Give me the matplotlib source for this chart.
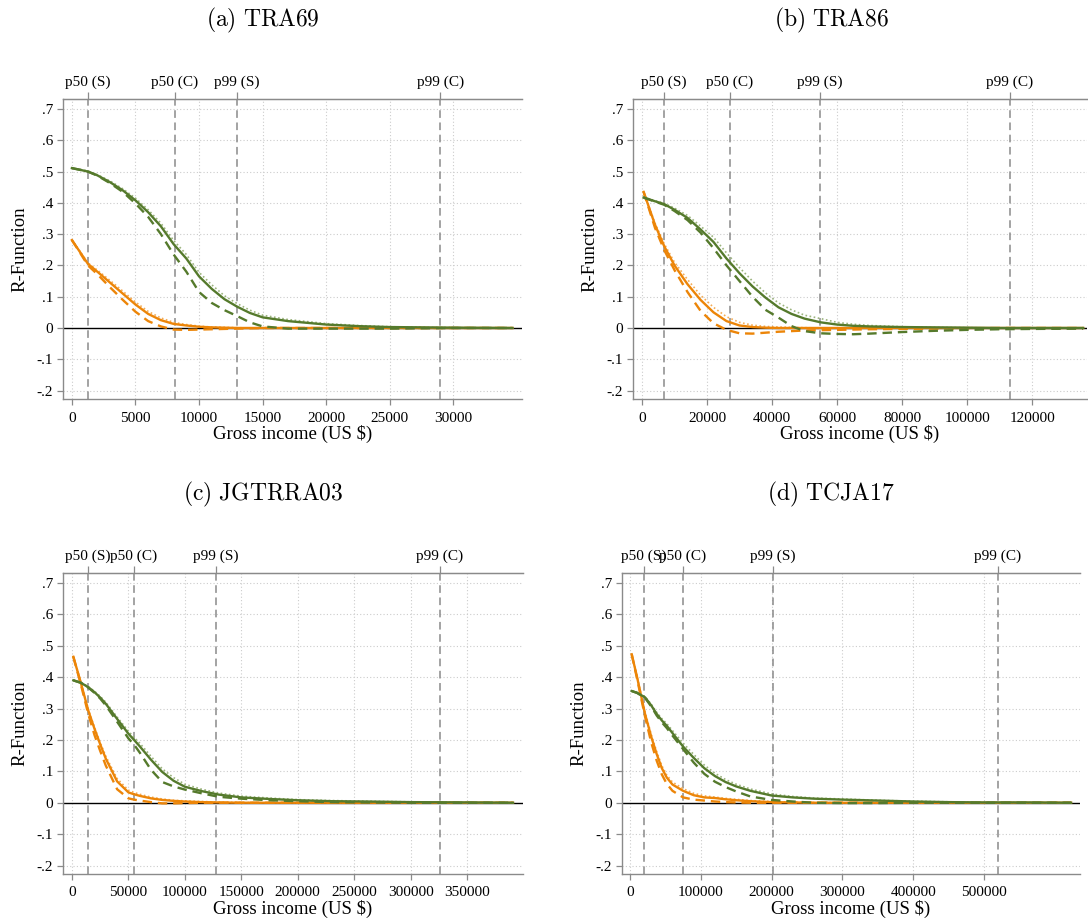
import matplotlib
matplotlib.use("Agg")
import matplotlib.pyplot as plt
import numpy as np

plt.rcParams['font.family'] = ['Liberation Serif', 'DejaVu Serif']
plt.rcParams['mathtext.fontset'] = 'cm'

# ---------------- data ----------------
titles = ["(a) TRA69", "(b) TRA86", "(c) JGTRRA03", "(d) TCJA17"]
top_labels = ["p50 (S)", "p50 (C)", "p99 (S)", "p99 (C)"]

# (a) TRA69
x_a = [0, 600, 1260, 2000, 3000, 4000, 5000, 6000, 7000, 8000, 9000, 10000,
       11000, 12000, 13000, 14000, 15000, 17000, 20000, 22500, 25000, 30000, 34650]
gs_a = [0.511, 0.506, 0.500, 0.488, 0.466, 0.440, 0.408, 0.370, 0.325, 0.268, 0.222, 0.165,
        0.125, 0.092, 0.068, 0.048, 0.034, 0.022, 0.011, 0.006, 0.003, 0.001, 0.0]
gd_a = [0.511, 0.506, 0.500, 0.487, 0.463, 0.435, 0.398, 0.355, 0.300, 0.235, 0.180, 0.115,
        0.080, 0.057, 0.038, 0.018, 0.005, -0.002, -0.002, -0.002, -0.002, 0.0, 0.0]
gt_a = [0.512, 0.507, 0.502, 0.490, 0.470, 0.445, 0.415, 0.378, 0.335, 0.280, 0.235, 0.178,
        0.138, 0.103, 0.078, 0.057, 0.041, 0.027, 0.014, 0.008, 0.004, 0.001, 0.0]
os_a = [0.281, 0.245, 0.205, 0.180, 0.145, 0.110, 0.075, 0.045, 0.025, 0.013, 0.008, 0.004,
        0.002, 0.001, 0.0, 0.0, 0.0, 0.0, 0.0, 0.0, 0.0, 0.0, 0.0]
od_a = [0.281, 0.243, 0.200, 0.172, 0.130, 0.090, 0.052, 0.022, 0.005, -0.005, -0.006, -0.005,
        -0.004, -0.003, -0.002, -0.001, 0.0, 0.0, 0.0, 0.0, 0.0, 0.0, 0.0]
ot_a = [0.282, 0.247, 0.208, 0.185, 0.152, 0.118, 0.083, 0.053, 0.032, 0.018, 0.011, 0.006,
        0.003, 0.002, 0.001, 0.0, 0.0, 0.0, 0.0, 0.0, 0.0, 0.0, 0.0]
vl_a = [1260, 8110, 12990, 28980]

# (b) TRA86
x_b = [500, 4000, 6800, 10000, 14000, 18000, 22000, 26000, 30000, 34000, 38000, 42000,
       46000, 50000, 55000, 60000, 65000, 70000, 80000, 90000, 100000, 110000, 120000, 135700]
gs_b = [0.417, 0.405, 0.396, 0.378, 0.352, 0.315, 0.275, 0.222, 0.175, 0.133, 0.097, 0.066,
        0.045, 0.030, 0.018, 0.011, 0.007, 0.005, 0.003, 0.002, 0.001, 0.0, 0.0, 0.0]
gd_b = [0.417, 0.404, 0.394, 0.374, 0.345, 0.305, 0.255, 0.200, 0.150, 0.100, 0.058, 0.033,
        0.006, -0.010, -0.017, -0.019, -0.020, -0.018, -0.013, -0.009, -0.006, -0.004, -0.003, -0.002]
gt_b = [0.418, 0.407, 0.399, 0.383, 0.360, 0.326, 0.290, 0.240, 0.193, 0.150, 0.112, 0.080,
        0.058, 0.041, 0.030, 0.018, 0.012, 0.008, 0.004, 0.002, 0.001, 0.0, 0.0, 0.0]
os_b = [0.435, 0.330, 0.262, 0.200, 0.140, 0.090, 0.050, 0.022, 0.008, 0.003, 0.001, 0.0,
        0.0, 0.0, 0.0, 0.0, 0.0, 0.0, 0.0, 0.0, 0.0, 0.0, 0.0, 0.0]
od_b = [0.435, 0.320, 0.250, 0.185, 0.115, 0.055, 0.015, -0.006, -0.017, -0.018, -0.015, -0.012,
        -0.010, -0.008, -0.007, -0.006, -0.005, -0.004, -0.003, -0.002, -0.001, 0.0, 0.0, 0.0]
ot_b = [0.436, 0.335, 0.270, 0.210, 0.155, 0.105, 0.066, 0.036, 0.018, 0.009, 0.005, 0.003,
        0.002, 0.001, 0.0, 0.0, 0.0, 0.0, 0.0, 0.0, 0.0, 0.0, 0.0, 0.0]
vl_b = [6770, 27080, 54770, 113230]

# (c) JGTRRA03
x_c = [1200, 8000, 14400, 20000, 25000, 30000, 40000, 50000, 55000, 60000, 70000, 80000,
       90000, 100000, 115000, 130000, 150000, 175000, 200000, 230000, 260000, 300000, 350000, 390700]
gs_c = [0.390, 0.382, 0.368, 0.352, 0.335, 0.315, 0.267, 0.220, 0.200, 0.180, 0.137, 0.098,
        0.070, 0.051, 0.037, 0.026, 0.017, 0.012, 0.008, 0.005, 0.004, 0.002, 0.001, 0.0]
gd_c = [0.390, 0.382, 0.367, 0.350, 0.332, 0.310, 0.258, 0.205, 0.185, 0.160, 0.105, 0.066,
        0.052, 0.042, 0.030, 0.019, 0.013, 0.008, 0.005, 0.002, 0.001, 0.0, 0.0, 0.0]
gt_c = [0.391, 0.384, 0.370, 0.355, 0.339, 0.320, 0.273, 0.228, 0.208, 0.190, 0.148, 0.108,
        0.080, 0.059, 0.043, 0.031, 0.021, 0.015, 0.010, 0.007, 0.005, 0.003, 0.001, 0.0]
os_c = [0.465, 0.380, 0.294, 0.235, 0.186, 0.140, 0.068, 0.033, 0.027, 0.022, 0.014, 0.009,
        0.006, 0.004, 0.002, 0.001, 0.0, 0.0, 0.0, 0.0, 0.0, 0.0, 0.0, 0.0]
od_c = [0.465, 0.375, 0.283, 0.215, 0.165, 0.118, 0.043, 0.014, 0.010, 0.007, 0.002, -0.002,
        -0.002, -0.001, 0.0, 0.0, 0.0, 0.0, 0.0, 0.0, 0.0, 0.0, 0.0, 0.0]
ot_c = [0.466, 0.383, 0.298, 0.240, 0.192, 0.148, 0.077, 0.040, 0.033, 0.027, 0.018, 0.012,
        0.008, 0.006, 0.004, 0.002, 0.001, 0.0, 0.0, 0.0, 0.0, 0.0, 0.0, 0.0]
vl_c = [14180, 54900, 127600, 326000]

# (d) TCJA17
x_d = [2400, 10000, 21200, 30000, 37700, 45000, 52000, 60000, 75000, 90000, 105000, 120000,
       135000, 150000, 170000, 200000, 230000, 260000, 300000, 350000, 400000, 450000, 500000,
       560000, 622900]
gs_d = [0.356, 0.350, 0.336, 0.310, 0.283, 0.262, 0.245, 0.222, 0.179, 0.143, 0.110, 0.085,
        0.066, 0.052, 0.038, 0.023, 0.017, 0.013, 0.010, 0.007, 0.004, 0.002, 0.001, 0.001, 0.0]
gd_d = [0.356, 0.350, 0.334, 0.307, 0.278, 0.256, 0.238, 0.214, 0.171, 0.128, 0.092, 0.067,
        0.050, 0.036, 0.020, 0.009, 0.004, 0.0, -0.001, -0.001, 0.0, 0.0, 0.0, 0.0, 0.0]
gt_d = [0.357, 0.352, 0.338, 0.314, 0.288, 0.268, 0.252, 0.230, 0.190, 0.154, 0.120, 0.094,
        0.074, 0.059, 0.044, 0.028, 0.020, 0.015, 0.012, 0.008, 0.005, 0.003, 0.002, 0.001, 0.0]
os_d = [0.473, 0.400, 0.283, 0.210, 0.155, 0.110, 0.080, 0.058, 0.038, 0.024, 0.017, 0.015,
        0.011, 0.008, 0.005, 0.002, 0.001, 0.0, 0.0, 0.0, 0.0, 0.0, 0.0, 0.0, 0.0]
od_d = [0.473, 0.395, 0.275, 0.192, 0.134, 0.090, 0.060, 0.038, 0.017, 0.010, 0.007, 0.004,
        0.002, 0.001, 0.0, 0.0, 0.0, 0.0, 0.0, 0.0, 0.0, 0.0, 0.0, 0.0, 0.0]
ot_d = [0.474, 0.403, 0.290, 0.218, 0.163, 0.118, 0.088, 0.066, 0.045, 0.030, 0.022, 0.018,
        0.014, 0.011, 0.007, 0.004, 0.002, 0.001, 0.0, 0.0, 0.0, 0.0, 0.0, 0.0, 0.0]
vl_d = [19800, 74900, 202000, 519800]

xticks_a = [0, 5000, 10000, 15000, 20000, 25000, 30000]
xticks_b = [0, 20000, 40000, 60000, 80000, 100000, 120000]
xticks_c = [0, 50000, 100000, 150000, 200000, 250000, 300000, 350000]
xticks_d = [0, 100000, 200000, 300000, 400000, 500000]
yticks = [-0.2, -0.1, 0, 0.1, 0.2, 0.3, 0.4, 0.5, 0.6, 0.7]
ytick_labels = ["-.2", "-.1", "0", ".1", ".2", ".3", ".4", ".5", ".6", ".7"]

# ---------------- layout ----------------
W, H = 1088, 923
green = '#557a2c'
orange = '#ec8508'
gray = '#8a8a8a'

panels = [
    dict(x=x_a, gs=gs_a, gd=gd_a, gt=gt_a, os=os_a, od=od_a, ot=ot_a, vl=vl_a,
         xt=xticks_a, xlim=(-700, 35400), box=(63, 522, 99, 399), tx=263, ty=20),
    dict(x=x_b, gs=gs_b, gd=gd_b, gt=gt_b, os=os_b, od=od_b, ot=ot_b, vl=vl_b,
         xt=xticks_b, xlim=(-2770, 136900), box=(633, 1087, 99, 399), tx=832, ty=20),
    dict(x=x_c, gs=gs_c, gd=gd_c, gt=gt_c, os=os_c, od=od_c, ot=ot_c, vl=vl_c,
         xt=xticks_c, xlim=(-7975, 399600), box=(63, 523, 573, 874), tx=263, ty=494),
    dict(x=x_d, gs=gs_d, gd=gd_d, gt=gt_d, os=os_d, od=od_d, ot=ot_d, vl=vl_d,
         xt=xticks_d, xlim=(-11300, 635600), box=(622, 1080, 573, 874), tx=831, ty=494),
]

fig = plt.figure(figsize=(W / 100, H / 100), dpi=100)

for p, title in zip(panels, titles):
    l, r, t, b = p['box']
    ax = fig.add_axes([l / W, 1 - b / H, (r - l) / W, (b - t) / H])

    ax.set_xlim(*p['xlim'])
    ax.set_ylim(-0.227, 0.732)

    # grid
    for yv in yticks:
        if yv != 0:
            ax.axhline(yv, color='#cccccc', lw=0.8, ls=(0, (1, 2)), zorder=0)
    for xv in p['xt']:
        ax.axvline(xv, color='#cccccc', lw=0.8, ls=(0, (1, 2)), zorder=0)
    ax.axhline(0, color='black', lw=1.0, zorder=1)

    # percentile markers
    for xv in p['vl']:
        ax.axvline(xv, color=gray, lw=1.1, ls=(0, (5, 3)), zorder=1)

    x = p['x']
    ax.plot(x, p['ot'], color='#f4ad58', lw=1.2, ls=(0, (1, 1.5)), zorder=2)
    ax.plot(x, p['od'], color=orange, lw=1.7, ls=(0, (4, 2.5)), zorder=3)
    ax.plot(x, p['os'], color=orange, lw=1.7, zorder=3)
    ax.plot(x, p['gt'], color='#9cb47e', lw=1.2, ls=(0, (1, 1.5)), zorder=4)
    ax.plot(x, p['gd'], color=green, lw=1.7, ls=(0, (4, 2.5)), zorder=5)
    ax.plot(x, p['gs'], color=green, lw=1.7, zorder=5)

    ax.set_xticks(p['xt'])
    ax.set_xticklabels([str(v) for v in p['xt']])
    ax.set_yticks(yticks)
    ax.set_yticklabels(ytick_labels)
    ax.tick_params(axis='both', colors=gray, labelcolor='black', labelsize=11,
                   length=4, width=0.9)
    ax.tick_params(axis='x', pad=5)
    ax.tick_params(axis='y', pad=3)

    for s in ['left', 'bottom', 'top']:
        ax.spines[s].set_color(gray)
        ax.spines[s].set_linewidth(1.0)
    ax.spines['right'].set_visible(False)

    ax.set_xlabel("Gross income (US $)", fontsize=13.5, labelpad=0)
    ax.set_ylabel("R-Function", fontsize=13.5, labelpad=6)

    sec = ax.secondary_xaxis('top')
    sec.set_xticks(p['vl'])
    sec.set_xticklabels(top_labels)
    sec.tick_params(colors=gray, labelcolor='black', labelsize=11, length=5, width=0.9, pad=2)
    sec.spines['top'].set_color(gray)

    fig.text(p['tx'] / W, 1 - p['ty'] / H, r'$\mathrm{' + title.replace(' ', r'\ ') + '}$',
             ha='center', va='center', fontsize=17)

fig.savefig('out.png', dpi=100)
